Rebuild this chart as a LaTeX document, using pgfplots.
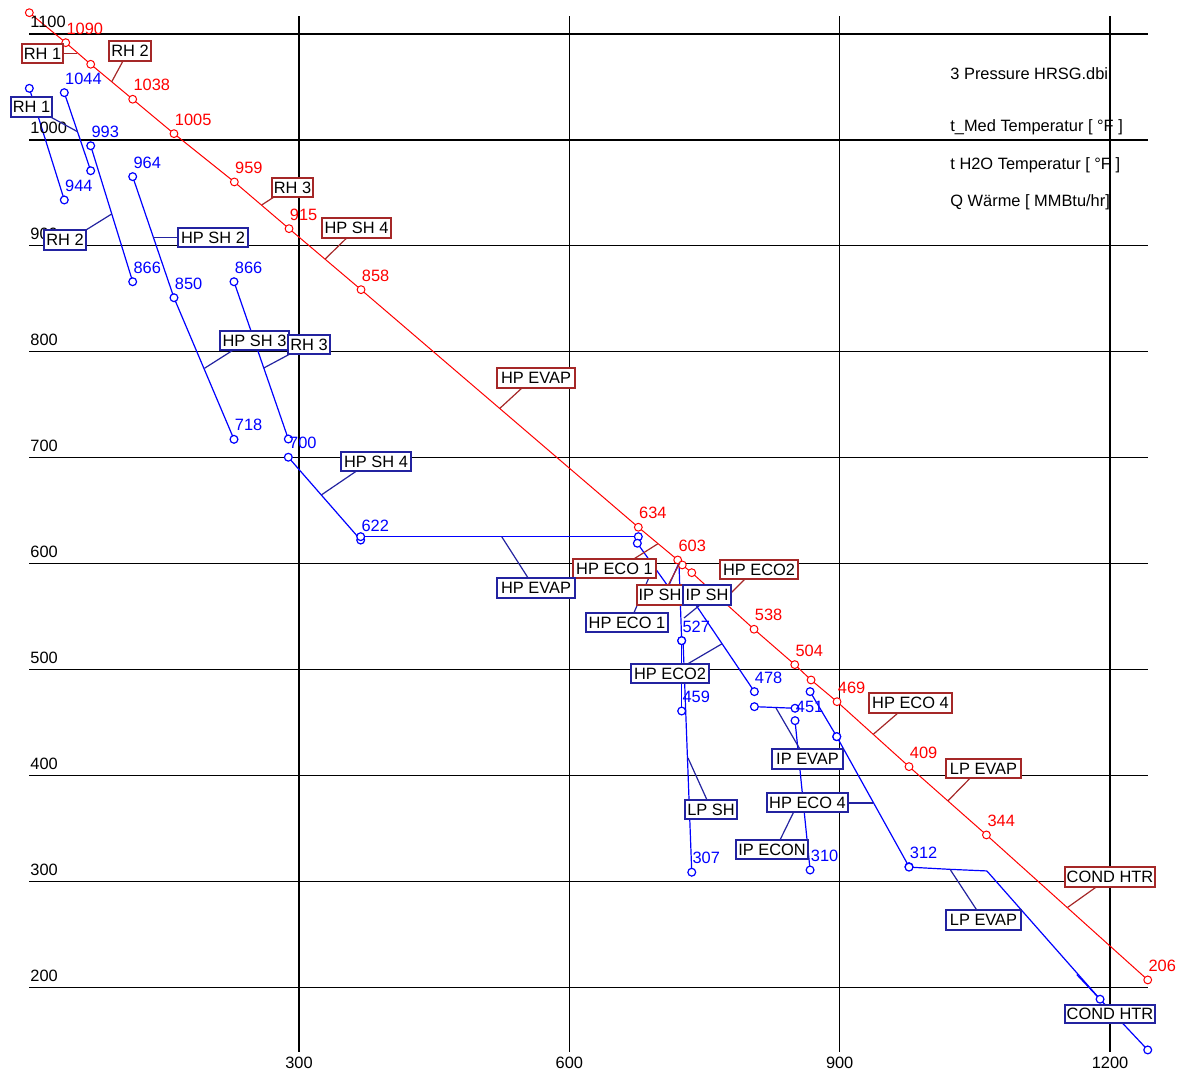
\documentclass[border=0pt]{standalone}
\usepackage{fontspec}
\setmainfont{Liberation Sans}
\usepackage{pgfplots}
\pgfplotsset{compat=1.18}
\definecolor{boxred}{RGB}{165,40,40}
\definecolor{boxblue}{RGB}{35,35,160}
\newcommand\lbl{\fontsize{8.2}{9.8}\selectfont}
\newcommand\rbox[5]{\draw[boxred,line width=0.7pt,fill=white] (#1,#2) rectangle (#3,#4);
  \node[text=black,inner sep=0pt,font=\lbl] at ({(#1+#3)/2},{(#2+#4)/2}) {#5};}
\newcommand\bbox[5]{\draw[boxblue,line width=0.7pt,fill=white] (#1,#2) rectangle (#3,#4);
  \node[text=black,inner sep=0pt,font=\lbl] at ({(#1+#3)/2},{(#2+#4)/2}) {#5};}
\newcommand\rlab[3]{\node[red,anchor=south west,inner sep=0pt,font=\lbl] at (#1+0.5,#2-8) {#3};}
\newcommand\blab[3]{\node[blue,anchor=south west,inner sep=0pt,font=\lbl] at (#1+0.5,#2-8) {#3};}
\pgfplotsset{water/.style={blue,line width=0.6pt,mark=*,mark size=1.95pt,mark options={fill=white,solid}}}
\begin{document}
\begin{tikzpicture}
\useasboundingbox (0,0) rectangle (589.5pt,537pt);
\begin{axis}[at={(0,0)},anchor=south west,scale only axis,width=589.5pt,height=537pt,
  xmin=-31.85,xmax=1276.5,ymin=118.1,ymax=1132.1,hide axis,clip=false]
\pgfplotsinvokeforeach{200,300,400,500,600,700,800,900,1000,1100}{
  \draw[black,line width=0.65pt] (axis cs:0.7,#1) -- (axis cs:1241.8,#1);}
\pgfplotsinvokeforeach{300,600,900,1200}{
  \draw[black,line width=0.65pt] (axis cs:#1,139) -- (axis cs:#1,1117);}
% gas (t_Med)
\addplot[red,line width=0.5pt,mark=*,mark size=1.95pt,mark options={fill=white,solid}] coordinates {
(0.7,1120.1) (41.1,1091.8) (68.8,1071.4) (115.4,1038.4) (161.2,1005.9) (228.2,960.3)
(288.9,916.2) (368.8,858.6) (676.5,634.3) (720.2,603.4) (725.3,598.7) (735.8,591.4)
(804.9,538.0) (850.1,504.6) (868.2,490.1) (897.0,469.6) (976.9,408.3) (1062.8,343.8) (1241.8,206.9)};
% water (t H2O)
\addplot[water] coordinates {(0.7,1048.7) (39.5,943.3)};
\addplot[water] coordinates {(39.5,1044.6) (68.8,970.9)};
\addplot[water] coordinates {(68.8,994.5) (115.4,866.1)};
\addplot[water] coordinates {(115.4,965.3) (161.2,851.0) (227.8,717.3)};
\addplot[water] coordinates {(227.8,866.1) (288.1,717.6)};
\addplot[water] coordinates {(288.1,700.4) (368.4,622.2)};
\addplot[water] coordinates {(368.4,625.4) (676.5,625.4)};
\addplot[water,mark indices={1}] coordinates {(675.4,619.2) (708.4,579.8)};
\addplot[water,mark indices={3}] coordinates {(710.6,579.8) (721.6,600.6) (724.6,527.2)};
\addplot[water] coordinates {(724.6,527.2) (724.6,460.8)};
\addplot[water,mark indices={2}] coordinates {(726.1,527.9) (735.8,308.6)};
\addplot[water] coordinates {(733.9,569.1) (805.3,479.1)};
\addplot[water] coordinates {(805.3,464.9) (850.4,463.4)};
\addplot[water] coordinates {(850.4,451.7) (867.1,310.7)};
\addplot[water] coordinates {(867.1,479.1) (896.7,436.6)};
\addplot[water] coordinates {(896.7,436.6) (976.9,313.8)};
\addplot[water,mark indices={1}] coordinates {(976.9,313.4) (1022.6,311.3) (1063.3,309.8)};
\addplot[water,mark indices={2}] coordinates {(1063.3,309.8) (1188.9,188.7)};
\addplot[water,mark indices={2}] coordinates {(1163.0,212.0) (1241.8,140.8)};
\end{axis}
\begin{scope}[x=0.5pt,y=-0.5pt,shift={(0pt,537pt)}]
% tick labels
\foreach \v in {200,300,...,1100}{
  \node[anchor=south west,inner sep=0pt,font=\lbl] at (30,{34+(1100-\v)*1.0592-5.5}) {\v};}
\foreach \v in {300,600,900,1200}{
  \node[anchor=base,inner sep=0pt,font=\lbl] at ({28.7+0.9011*\v},1069) {\v};}
% header texts
\node[anchor=base west,inner sep=0pt,font=\lbl] at (950,80) {3 Pressure HRSG.dbi};
\node[anchor=base west,inner sep=0pt,font=\lbl] at (950,132) {t\_Med Temperatur [ °F ]};
\node[anchor=base west,inner sep=0pt,font=\lbl] at (950,170) {t H2O Temperatur [ °F ]};
\node[anchor=base west,inner sep=0pt,font=\lbl] at (950,206.5) {Q Wärme [ MMBtu/hr]};
% red leaders
\begin{scope}[boxred,line width=0.6pt]
\draw (63.3,53.3) -- (77.3,53.3);
\draw (123,61) -- (111.7,81.8);
\draw (274,197) -- (261.7,205);
\draw (346.7,238) -- (325,259.2);
\draw (522,388) -- (499.7,408.5);
\draw (633.3,559.3) -- (658,543.7);
\draw (668.3,585) -- (680,562.5);
\draw (745,579) -- (722.9,601);
\draw (898,713) -- (873.3,734.3);
\draw (970,778.3) -- (948,800.8);
\draw (1096.7,886.7) -- (1067.5,907.5);
\end{scope}
% blue leaders
\begin{scope}[boxblue,line width=0.6pt]
\draw (50,116.7) -- (77.5,131.7);
\draw (86,230) -- (111.7,214);
\draw (178.3,237.2) -- (153.3,237.2);
\draw (233.3,350) -- (204.5,368.3);
\draw (290,354) -- (263.8,368);
\draw (357,470.7) -- (321.3,495);
\draw (528.3,578.3) -- (501.7,536.7);
\draw (634,612.7) -- (653,568);
\draw (700,605) -- (684,618);
\draw (688,663.7) -- (721.7,644);
\draw (706.7,799.3) -- (688,758);
\draw (800,749.3) -- (776,708);
\draw (848.3,803) -- (873,803);
\draw (780,840) -- (802,795);
\draw (976.7,910) -- (950,869.3);
\end{scope}
% red boxes
\rbox{22}{44}{63}{63}{RH 1}
\rbox{109}{41}{151}{61}{RH 2}
\rbox{272}{178}{313}{197}{RH 3}
\rbox{322}{218}{391}{238}{HP SH 4}
\rbox{497}{368}{575}{388}{HP EVAP}
\rbox{573}{559}{656}{578}{HP ECO 1}
\rbox{637}{585}{683}{605}{IP SH}
\rbox{720}{560}{798}{579}{HP ECO2}
\rbox{869}{693}{952}{713}{HP ECO 4}
\rbox{946}{759}{1021}{778}{LP EVAP}
\rbox{1065}{867}{1155}{887}{COND HTR}
% blue boxes
\bbox{11}{97}{52}{117}{RH 1}
\bbox{44}{230}{86}{250}{RH 2}
\bbox{178}{228}{248}{247}{HP SH 2}
\bbox{220}{331}{289}{350}{HP SH 3}
\bbox{288}{335}{330}{354}{RH 3}
\bbox{341}{452}{411}{471}{HP SH 4}
\bbox{497}{578}{575}{598}{HP EVAP}
\bbox{586}{613}{668}{632}{HP ECO 1}
\bbox{683}{585}{731}{605}{IP SH}
\bbox{631}{664}{709}{683}{HP ECO2}
\bbox{685}{800}{737}{819}{LP SH}
\bbox{772}{749}{843}{769}{IP EVAP}
\bbox{767}{793}{848}{812}{HP ECO 4}
\bbox{736}{840}{808}{859}{IP ECON}
\bbox{946}{910}{1021}{930}{LP EVAP}
\bbox{1065}{1005}{1155}{1023}{COND HTR}
% red value labels
\rlab{65.7}{42.7}{1090}
\rlab{132.7}{99.3}{1038}
\rlab{174}{133.7}{1005}
\rlab{234.3}{182}{959}
\rlab{289}{228.7}{915}
\rlab{361}{289.7}{858}
\rlab{638.3}{527.3}{634}
\rlab{677.7}{560}{603}
\rlab{754}{629.3}{538}
\rlab{794.7}{664.7}{504}
\rlab{837}{701.7}{469}
\rlab{909}{766.7}{409}
\rlab{986.7}{835}{344}
\rlab{1147.7}{980}{206}
% blue value labels
\blab{64.3}{92.7}{1044}
\blab{64.3}{200}{944}
\blab{90.7}{145.7}{993}
\blab{132.7}{176.7}{964}
\blab{132.7}{281.7}{866}
\blab{174}{297.7}{850}
\blab{234}{281.7}{866}
\blab{234}{439.3}{718}
\blab{288.3}{457.3}{700}
\blab{360.7}{540}{622}
\blab{681.7}{640.7}{527}
\blab{754}{691.7}{478}
\blab{681.7}{711}{459}
\blab{795}{720.7}{451}
\blab{810}{870}{310}
\blab{691.7}{872.3}{307}
\blab{909}{866.7}{312}
\end{scope}
\end{tikzpicture}
\end{document}
